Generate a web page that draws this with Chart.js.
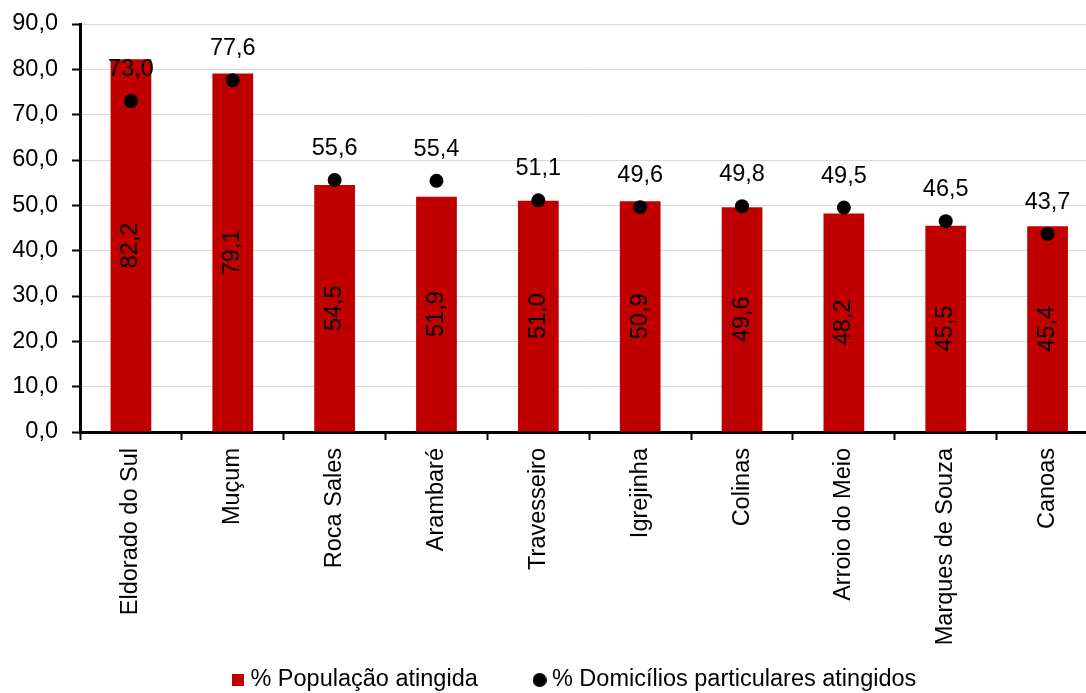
<!DOCTYPE html>
<html>
<head>
<meta charset="utf-8">
<script src="https://cdn.jsdelivr.net/npm/chart.js@4.4.1/dist/chart.umd.min.js"></script>
<style>
  html, body { margin: 0; padding: 0; overflow: hidden; background: #fff; }
  canvas { display: block; }
</style>
</head>
<body>
<canvas id="c" width="1154" height="693"></canvas>
<script>
// ---- data ----
const categories = ["Eldorado do Sul", "Muçum", "Roca Sales", "Arambaré", "Travesseiro", "Igrejinha", "Colinas", "Arroio do Meio", "Marques de Souza", "Canoas"];
const populacaoAtingida = [82.2, 79.1, 54.5, 51.9, 51.0, 50.9, 49.6, 48.2, 45.5, 45.4];
const domiciliosAtingidos = [73.0, 77.6, 55.6, 55.4, 51.1, 49.6, 49.8, 49.5, 46.5, 43.7];
const yTickLabels = ["0,0", "10,0", "20,0", "30,0", "40,0", "50,0", "60,0", "70,0", "80,0", "90,0"];
const seriesNames = ["% População atingida", "% Domicílios particulares atingidos"];

// ---- styling ----
const FS = 23.5;
const FONT_FAMILY = '"Liberation Sans", Arial, sans-serif';
const RED = '#C00000';
const fmt = v => v.toFixed(1).replace('.', ',');

function makeMarker(shape, color, size) {
  const c = document.createElement('canvas');
  c.width = size; c.height = size;
  const g = c.getContext('2d');
  g.fillStyle = color;
  if (shape === 'rect') { g.fillRect(0, 0, size, size); }
  else if (shape === 'circle') { g.beginPath(); g.arc(size / 2, size / 2, size / 2, 0, Math.PI * 2); g.fill(); }
  return c;
}
const legendMarkers = [makeMarker('rect', RED, 12), makeMarker('circle', '#000', 14)];
const blankMarker = makeMarker('none', 'rgba(0,0,0,0)', 1);

const valueLabels = {
  id: 'valueLabels',
  afterDatasetsDraw(chart) {
    const ctx = chart.ctx;
    ctx.save();
    ctx.font = FS + 'px ' + FONT_FAMILY;
    ctx.fillStyle = '#000';
    ctx.textAlign = 'center';
    ctx.textBaseline = 'middle';
    const barMeta = chart.getDatasetMeta(0);
    barMeta.data.forEach((el, i) => {
      const v = chart.data.datasets[0].data[i];
      const cy = (el.y + el.base) / 2;
      ctx.save();
      ctx.translate(el.x, cy);
      ctx.rotate(-Math.PI / 2);
      ctx.fillText(fmt(v), 0, 0);
      ctx.restore();
    });
    const ptMeta = chart.getDatasetMeta(1);
    ptMeta.data.forEach((el, i) => {
      const v = chart.data.datasets[1].data[i];
      ctx.fillText(fmt(v), el.x, el.y - 31.5);
    });
    ctx.restore();
  }
};

Chart.defaults.font.family = FONT_FAMILY;
Chart.defaults.font.size = FS;
Chart.defaults.color = '#000';

new Chart(document.getElementById('c'), {
  type: 'bar',
  data: {
    labels: categories,
    datasets: [
      {
        type: 'bar',
        label: seriesNames[0],
        data: populacaoAtingida,
        backgroundColor: RED,
        borderWidth: 0,
        barPercentage: 0.4,
        categoryPercentage: 1.0,
        order: 2
      },
      {
        type: 'line',
        label: seriesNames[1],
        data: domiciliosAtingidos,
        showLine: false,
        pointRadius: 7,
        pointHoverRadius: 7,
        pointBackgroundColor: '#000',
        pointBorderWidth: 0,
        borderColor: '#000',
        backgroundColor: '#000',
        order: 1
      }
    ]
  },
  options: {
    responsive: false,
    animation: false,
    layout: { padding: { top: 24, left: 0, right: 0, bottom: -8.75 } },
    plugins: {
      tooltip: { enabled: false },
      legend: {
        position: 'bottom',
        onClick: () => {},
        labels: {
          usePointStyle: true,
          boxWidth: 1,
          boxHeight: 12,
          padding: 8,
          color: '#000',
          font: { size: FS, family: FONT_FAMILY },
          generateLabels(chart) {
            const items = Chart.defaults.plugins.legend.labels.generateLabels(chart)
              .sort((a, b) => a.datasetIndex - b.datasetIndex);
            items.forEach(it => { it.pointStyle = legendMarkers[it.datasetIndex]; });
            const spacer = {
              text: '     ',
              fillStyle: 'rgba(0,0,0,0)',
              strokeStyle: 'rgba(0,0,0,0)',
              lineWidth: 0,
              hidden: false,
              pointStyle: blankMarker,
              datasetIndex: -1
            };
            return [items[0], spacer, items[1]];
          }
        }
      }
    },
    scales: {
      x: {
        offset: true,
        grid: {
          offset: true,
          drawOnChartArea: false,
          drawTicks: true,
          tickLength: 8,
          tickColor: '#000',
          tickWidth: 2
        },
        border: { display: true, color: '#000', width: 3 },
        ticks: {
          autoSkip: false,
          minRotation: 90,
          maxRotation: 90,
          padding: 8,
          color: '#000',
          font: { size: FS, family: FONT_FAMILY }
        },
        afterFit(s) { s.height = 228.25; }
      },
      y: {
        min: 0,
        max: 90,
        position: 'left',
        grid: {
          color: '#D9D9D9',
          lineWidth: 1,
          drawTicks: true,
          tickLength: 8,
          tickColor: '#000',
          tickWidth: 2
        },
        border: { display: true, color: '#000', width: 3 },
        ticks: {
          stepSize: 10,
          padding: 14,
          color: '#000',
          font: { size: FS, family: FONT_FAMILY },
          callback: (v, i) => yTickLabels[i]
        },
        afterFit(s) { s.width = 80; s.paddingTop = 10; s.paddingBottom = 10; }
      },
      yR: {
        type: 'linear',
        position: 'right',
        display: true,
        grid: { display: false, drawTicks: false },
        border: { display: false },
        ticks: { display: false },
        afterFit(s) { s.width = 55.5; s.paddingTop = 0; s.paddingBottom = 0; }
      }
    }
  },
  plugins: [valueLabels]
});
</script>
</body>
</html>
